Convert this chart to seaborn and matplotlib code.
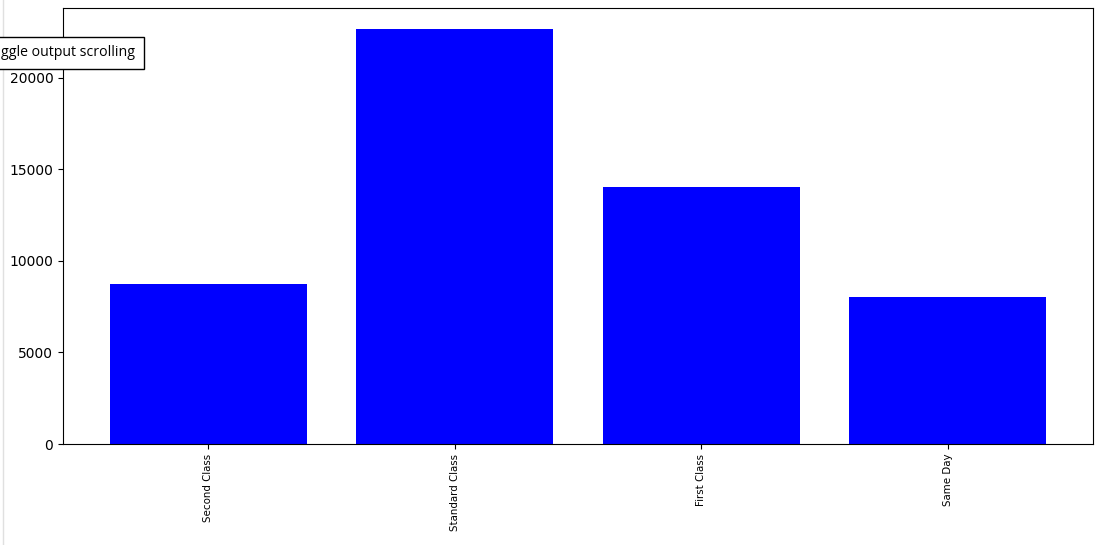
import matplotlib
matplotlib.use('Agg')
import matplotlib.pyplot as plt
import seaborn as sns
import pandas as pd

# valores
ship_modes = ['Second Class', 'Standard Class', 'First Class', 'Same Day']
contagens = [8750, 22670, 14020, 8000]

df = pd.DataFrame({'ship_mode': ship_modes, 'count': contagens})

fig = plt.figure(figsize=(11.08, 5.45), dpi=100)
ax = fig.add_axes([63 / 1108, 1 - 444 / 545, (1093 - 63) / 1108, (444 - 8) / 545])

sns.barplot(data=df, x='ship_mode', y='count', color='blue', saturation=1,
            width=0.8, ax=ax)
ax.set_xlim(-0.59, 3.59)
ax.set_ylim(0, max(contagens) * 1.05)
ax.set_xlabel('')
ax.set_ylabel('')
ax.tick_params(axis='x', labelrotation=90, labelsize=7.4)
ax.tick_params(axis='y', labelsize=10)

# caixa do jupyter que aparece por cima (cortada na borda esquerda)
fig.text(1 / 1108, 1 - 53 / 545, 'ggle output scrolling', ha='left', va='center',
         fontsize=10.2, family='Open Sans',
         bbox=dict(boxstyle='square,pad=0.6', facecolor='white', edgecolor='black', linewidth=1))
fig.add_artist(plt.Line2D([3 / 1108, 3 / 1108], [0, 1], color='#e0e0e0', linewidth=1))

fig.savefig('out.png', dpi=100)
